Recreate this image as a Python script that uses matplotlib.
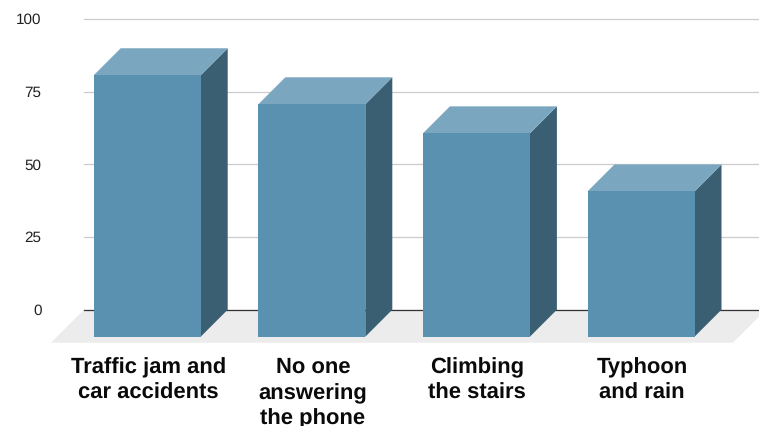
import matplotlib
matplotlib.use("Agg")
import matplotlib.pyplot as plt
from matplotlib.patches import Polygon
from matplotlib.transforms import ScaledTranslation

categories = ["Traffic jam and\ncar accidents", "No one\nanswering\nthe phone",
              "Climbing\nthe stairs", "Typhoon\nand rain"]
values = [90, 80, 70, 50]
y_ticks = [0, 25, 50, 75, 100]

W, H = 759, 427

plt.rcParams["font.family"] = ["Liberation Sans", "DejaVu Sans"]
plt.rcParams["text.hinting"] = "none"
fig = plt.figure(figsize=(W / 100, H / 100), dpi=100)

# 뒤쪽 벽 영역: 0 -> 310px, 100 -> 19.5px
left, right, top, bottom = 84, 759, 20.2, 310.7
ax = fig.add_axes([left / W, 1 - bottom / H, (right - left) / W, (bottom - top) / H])

step_px = 164.6
px_per_val = (bottom - top) / 100
ax.set_ylim(0, 100)
ax.set_xlim((left - 147.2) / step_px, (right - 147.2) / step_px)

# 3D 깊이 (px -> 데이터 단위)
depth_x = 27 / step_px
depth_y = 27 / px_per_val
bar_w = 107 / step_px

front_color = "#5a91b0"
top_color = "#7aa7bf"
side_color = "#3a5f72"

# 바닥
x0, x1 = ax.get_xlim()
floor_drop = 33 / px_per_val
floor_dx = 33 / step_px
floor = Polygon([(x0, 0), (x1 + 7 / step_px, 0), (x1 + 7 / step_px - floor_dx, -floor_drop), (x0 - floor_dx, -floor_drop)],
                closed=True, fc="#ececec", ec="none", clip_on=False, zorder=1)
ax.add_patch(floor)

# 눈금선
for t in y_ticks:
    if t == 0:
        ax.axhline(t, color="#333333", lw=0.9, zorder=2, clip_on=False)
    else:
        ax.axhline(t, color="#cccccc", lw=0.9, zorder=2, clip_on=False)

# 막대
for i, v in enumerate(values):
    xl = i - bar_w / 2
    xr = i + bar_w / 2
    base = -depth_y
    vtop = v - depth_y
    ax.add_patch(Polygon([(xr, base), (xr + depth_x, 0), (xr + depth_x, v), (xr, vtop)],
                         closed=True, fc=side_color, ec="none", clip_on=False, zorder=3))
    ax.add_patch(Polygon([(xl, vtop), (xl + depth_x, v), (xr + depth_x, v), (xr, vtop)],
                         closed=True, fc=top_color, ec="none", clip_on=False, zorder=3))
    ax.add_patch(Polygon([(xl, base), (xr, base), (xr, vtop), (xl, vtop)],
                         closed=True, fc=front_color, ec="none", clip_on=False, zorder=4))

for s in ax.spines.values():
    s.set_visible(False)

ax.set_yticks(y_ticks)
ax.set_yticklabels([str(t) for t in y_ticks], fontsize=11, color="#222222")
ax.tick_params(axis="y", length=0, pad=30.5)
for lab in ax.get_yticklabels():
    lab.set_transform(lab.get_transform() + ScaledTranslation(0, 1.3 / 100, fig.dpi_scale_trans))

ax.set_xticks(range(len(categories)))
ax.set_xticklabels(categories, fontsize=15.8, fontweight="bold", color="#0a0a0a",
                   linespacing=1.33, ma="center", va="top")
ax.tick_params(axis="x", length=0, pad=33.5)
for lab in ax.get_xticklabels():
    lab.set_transform(lab.get_transform() + ScaledTranslation(1 / 100, 0, fig.dpi_scale_trans))

fig.savefig("out.png", dpi=100)
